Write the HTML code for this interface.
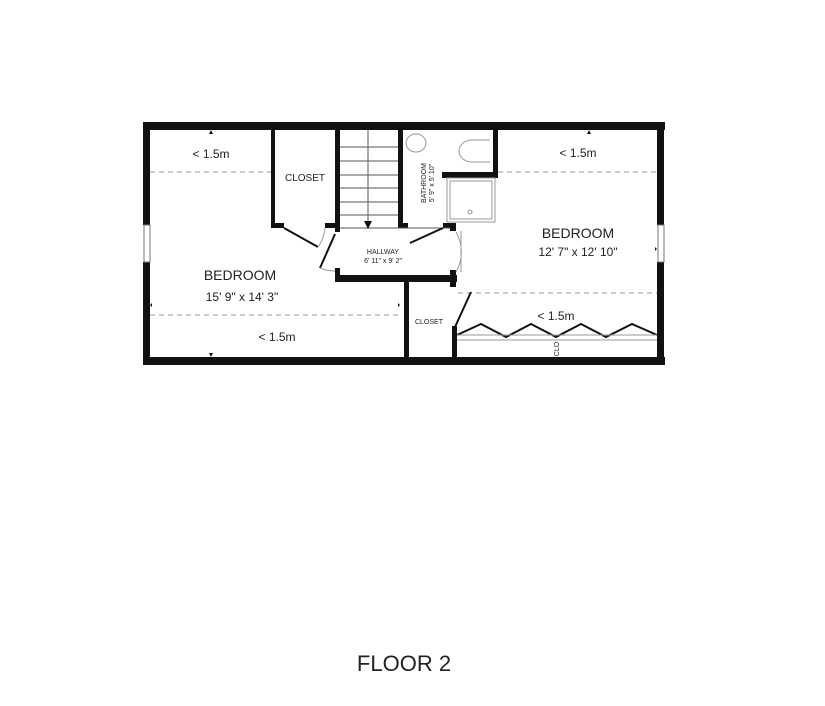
<!DOCTYPE html>
<html><head><meta charset="utf-8"><style>
html,body{margin:0;padding:0;background:#fff;}
svg{display:block;font-family:"Liberation Sans",sans-serif;}
</style></head><body>
<svg width="825" height="706" viewBox="0 0 825 706" xmlns="http://www.w3.org/2000/svg">
<rect width="825" height="706" fill="#fff"/>
<g fill="#111">
<!-- outer walls -->
<rect x="143" y="122" width="522" height="8"/>
<rect x="143" y="357" width="522" height="8"/>
<rect x="143" y="122" width="7" height="103"/>
<rect x="143" y="262" width="7" height="103"/>
<rect x="657" y="122" width="7" height="103"/>
<rect x="657" y="262" width="7" height="103"/>
<!-- closet -->
<rect x="271" y="130" width="4" height="98"/>
<rect x="271" y="223" width="13" height="5"/>
<rect x="325" y="223" width="15" height="5"/>
<rect x="335" y="130" width="5" height="102"/>
<!-- bathroom -->
<rect x="398" y="130" width="5" height="98"/>
<rect x="398" y="223" width="10" height="5"/>
<rect x="443" y="223" width="13" height="5"/>
<rect x="493" y="130" width="5" height="48"/>
<rect x="442" y="172" width="56" height="6"/>
<!-- hallway -->
<rect x="335" y="275" width="122" height="7"/>
<rect x="335" y="268" width="5" height="12"/>
<rect x="450" y="223" width="6" height="8"/>
<rect x="450" y="270" width="6" height="17"/>
<rect x="452" y="326" width="5" height="35"/>
<rect x="404" y="280" width="5" height="80"/>
</g>
<!-- windows -->
<g fill="#fff" stroke="#777" stroke-width="1">
<rect x="144" y="225" width="6" height="37"/>
<rect x="658" y="225" width="6" height="37"/>
</g>
<!-- stairs -->
<g stroke="#555" stroke-width="1" fill="none">
<line x1="340" y1="147" x2="398" y2="147"/><line x1="340" y1="161" x2="398" y2="161"/>
<line x1="340" y1="175" x2="398" y2="175"/><line x1="340" y1="188" x2="398" y2="188"/>
<line x1="340" y1="202" x2="398" y2="202"/><line x1="340" y1="215" x2="398" y2="215"/>
<line x1="368" y1="130" x2="368" y2="222"/>
<line x1="340" y1="228" x2="450" y2="228"/>
</g>
<polygon points="364,221 372,221 368,229" fill="#111"/>
<!-- dashed lines -->
<g stroke="#999" stroke-width="1" stroke-dasharray="5,4" fill="none">
<line x1="150" y1="172" x2="271" y2="172"/>
<line x1="150" y1="315" x2="400" y2="315"/>
<line x1="498" y1="172" x2="657" y2="172"/>
<line x1="458" y1="293" x2="657" y2="293"/>
</g>
<!-- doors -->
<g stroke="#111" stroke-width="2" fill="none">
<line x1="284" y1="228" x2="318" y2="247"/>
<line x1="335" y1="234" x2="320" y2="268"/>
<line x1="443" y1="228" x2="410" y2="243"/>
<line x1="455" y1="327" x2="471" y2="292"/>
<polyline points="457,335 481,324 506,337 531,324 556,337 581,324 606,337 632,324 657,335"/>
</g>
<g stroke="#999" stroke-width="1" fill="none">
<path d="M318,247 A38,38 0 0 0 325,228"/>
<path d="M320,268 A38,38 0 0 0 335,271"/>
<path d="M456,232 A40,40 0 0 1 456,272"/>
<line x1="461" y1="231" x2="461" y2="272"/>
<line x1="457" y1="335" x2="657" y2="335"/>
<line x1="457" y1="340" x2="657" y2="340"/>
<!-- toilet and sink -->
<ellipse cx="416" cy="143" rx="10" ry="9"/>
<path d="M490,140 L472,140 A13,11 0 0 0 472,162 L490,162"/>
<rect x="447" y="178" width="48" height="44"/>
<rect x="450" y="181" width="42" height="38"/>
<circle cx="470" cy="212" r="2"/>
</g>
<!-- small arrows -->
<g fill="#111">
<polygon points="209,134 213,134 211,130"/><polygon points="209,353 213,353 211,357"/>
<polygon points="587,134 591,134 589,130"/><polygon points="152,303 152,307 150,305"/>
<polygon points="398,303 398,307 400,305"/><polygon points="655,247 655,251 657,249"/>
</g>
<!-- text -->
<g fill="#222" text-anchor="middle">
<text x="211" y="158" font-size="12">&lt; 1.5m</text>
<text x="305" y="181" font-size="10">CLOSET</text>
<text x="240" y="280" font-size="14">BEDROOM</text>
<text x="242" y="301" font-size="12">15' 9" x 14' 3"</text>
<text x="277" y="341" font-size="12">&lt; 1.5m</text>
<text x="383" y="254" font-size="7">HALLWAY</text>
<text x="383" y="263" font-size="7">6' 11" x 9' 2"</text>
<text x="429" y="324" font-size="7">CLOSET</text>
<text transform="translate(426,183) rotate(-90)" font-size="7">BATHROOM</text>
<text transform="translate(434,183) rotate(-90)" font-size="7">5' 9" x 5' 10"</text>
<text x="578" y="157" font-size="12">&lt; 1.5m</text>
<text x="578" y="238" font-size="14">BEDROOM</text>
<text x="578" y="256" font-size="12">12' 7" x 12' 10"</text>
<text x="556" y="320" font-size="12">&lt; 1.5m</text>
<text transform="translate(559,349) rotate(-90)" font-size="7">CLO</text>
<text x="404" y="671" font-size="22">FLOOR 2</text>
</g>
</svg>
</body></html>
